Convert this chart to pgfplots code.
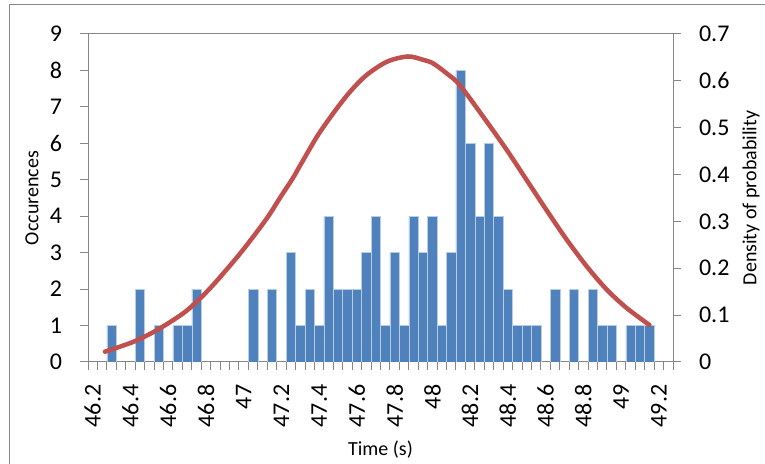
\documentclass[border=0pt]{standalone}
\usepackage{fontspec}
\setmainfont{Carlito}
\usepackage{pgfplots}
\pgfplotsset{compat=1.18}
\usepackage{pgfplotstable}
\definecolor{barblue}{HTML}{4F81BD}
\definecolor{baredge}{HTML}{B8CCE4}
\definecolor{curvered}{HTML}{C0504D}
\definecolor{axgray}{HTML}{868686}

% histogram: bin index k (0 = 46.20 s, step 0.05 s), bin time, count
\pgfplotstableread{
k time count
2 46.30 1
5 46.45 2
7 46.55 1
9 46.65 1
10 46.70 1
11 46.75 2
17 47.05 2
19 47.15 2
21 47.25 3
22 47.30 1
23 47.35 2
24 47.40 1
25 47.45 4
26 47.50 2
27 47.55 2
28 47.60 2
29 47.65 3
30 47.70 4
31 47.75 1
32 47.80 3
33 47.85 1
34 47.90 4
35 47.95 3
36 48.00 4
37 48.05 1
38 48.10 3
39 48.15 8
40 48.20 6
41 48.25 4
42 48.30 6
43 48.35 4
44 48.40 2
45 48.45 1
46 48.50 1
47 48.55 1
49 48.65 2
51 48.75 2
53 48.85 2
54 48.90 1
55 48.95 1
57 49.05 1
58 49.10 1
59 49.15 1
}\histdata

% density curve (x in bin-index units)
\pgfplotstableread{
k density
1.3 0.022
4.3 0.043
6.8 0.068
9.6 0.104
11.4 0.136
13.1 0.172
15.8 0.236
18.4 0.305
19.9 0.352
21.2 0.392
22.0 0.420
23.8 0.482
25.5 0.531
27.2 0.575
29.0 0.612
31.2 0.641
33.4 0.652
35.0 0.645
36.1 0.637
37.7 0.613
38.9 0.591
41.4 0.523
43.9 0.452
46.0 0.388
48.1 0.324
50.2 0.262
52.4 0.203
54.5 0.154
56.6 0.115
59.0 0.079
}\curvedata

\begin{document}
\begin{tikzpicture}[x=0.75pt,y=0.75pt]
\useasboundingbox (0,0) rectangle (765,464);
\draw[axgray, line width=0.75pt] (9.5,0) -- (9.5,459) -- (765,459);
\draw[axgray, line width=0.75pt] (80,430) -- (680,430);

\pgfplotsset{
  every axis/.append style={
    at={(66pt,76.5pt)}, anchor=south west,
    scale only axis, width=438.75pt, height=246pt,
    xmin=-0.5, xmax=61.5,
    axis line style={-,axgray,line width=0.75pt},
    tick style={axgray,line width=0.75pt},
    tick align=outside,
    major tick length=6pt, minor tick length=6pt,
    /pgf/number format/assume math mode=true,
    ticklabel style={font=\fontsize{18}{20}\selectfont, text=black},
  }
}

\begin{axis}[
  ymin=0, ymax=9,
  axis x line*=bottom, axis y line*=left,
  ytick={0,1,...,9},
  yticklabel style={xshift=-10pt},
  xtick={0,4,...,60},
  xticklabels={46.2,46.4,46.6,46.8,47,47.2,47.4,47.6,47.8,48,48.2,48.4,48.6,48.8,49,49.2},
  major x tick style={draw=none},
  minor xtick={-0.5,0.5,...,61.5},
  xticklabel style={yshift=-7.5pt, rotate=90, anchor=east},
  every axis x label/.style={at={(axis description cs:0.5,0)}, anchor=base, yshift=-70.5pt, font=\fontsize{15}{18}\selectfont},
  every axis y label/.style={at={(axis description cs:0,0.5)}, xshift=-42pt, rotate=90, anchor=center, font=\fontsize{15}{18}\selectfont},
  xlabel={Time (s)},
  ylabel={Occurences},
]
\addplot[ybar, bar width=1, bar shift=0, fill=barblue, draw=baredge, line width=0.4pt]
  table[x=k, y=count]{\histdata};
\end{axis}

\begin{axis}[
  ymin=0, ymax=0.7,
  axis x line*=top, axis y line*=right,
  xtick=\empty,
  ytick={0,0.1,...,0.7},
  yticklabels={0,0.1,0.2,0.3,0.4,0.5,0.6,0.7},
  yticklabel style={xshift=10pt},
  every axis y label/.style={at={(axis description cs:1,0.5)}, xshift=58.5pt, rotate=90, anchor=center, font=\fontsize{15}{18}\selectfont},
  ylabel={Density of probability},
]
\addplot[curvered, line width=3.4pt, smooth, line cap=round, line join=round]
  table[x=k, y=density]{\curvedata};
\end{axis}
\end{tikzpicture}
\end{document}
